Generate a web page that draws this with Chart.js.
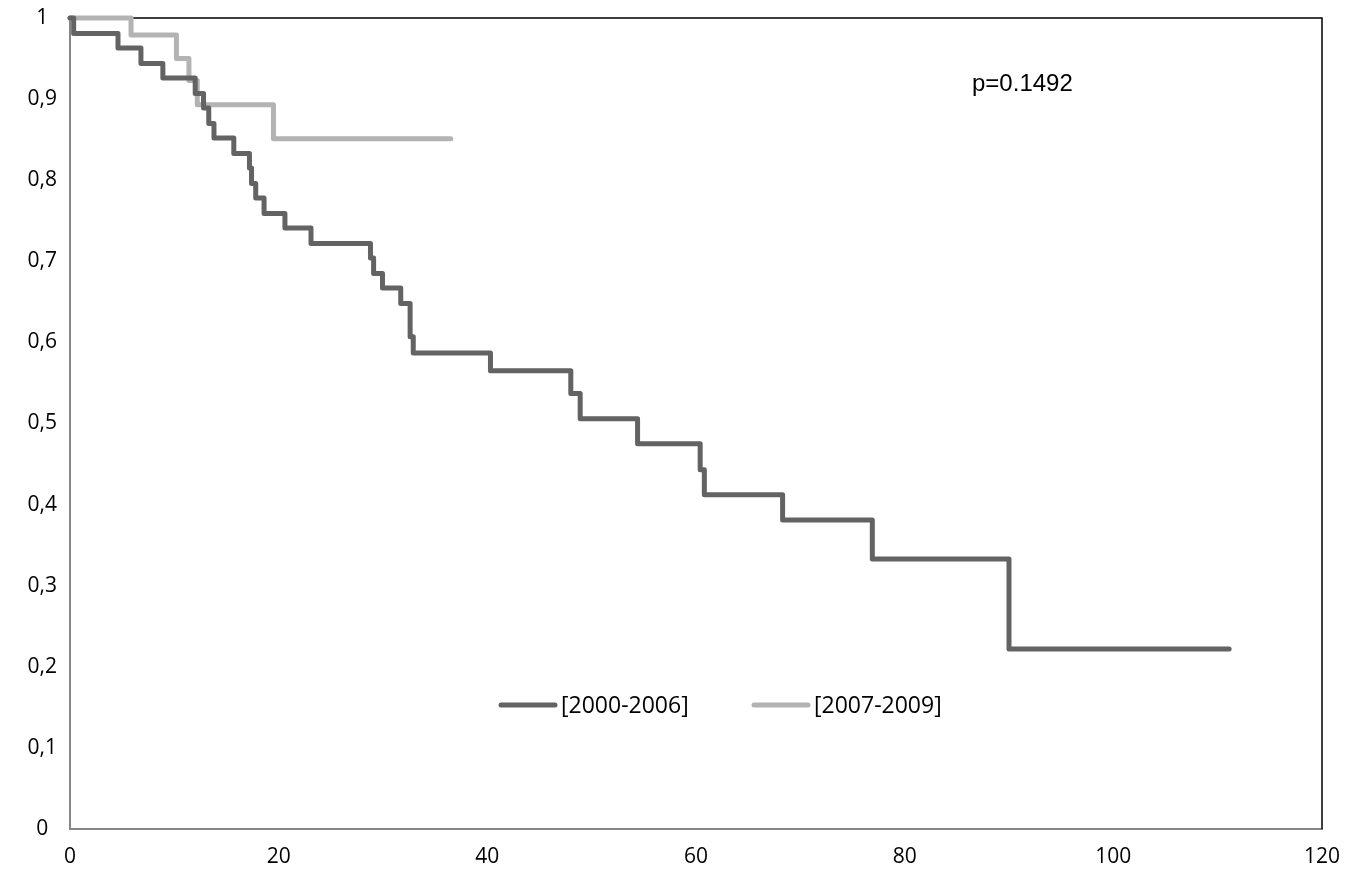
<!DOCTYPE html>
<html>
<head>
<meta charset="utf-8">
<script src="https://cdn.jsdelivr.net/npm/chart.js@4/dist/chart.umd.min.js"></script>
<style>
  html, body { margin: 0; padding: 0; background: #ffffff; }
  #wrap { width: 1355px; height: 884px; }
</style>
</head>
<body>
<div id="wrap"><canvas id="c" width="1355" height="884"></canvas></div>
<script>
// Kaplan-Meier curve data (time in months, survival probability)
const seriesLabels = ["[2000-2006]", "[2007-2009]"];
const timesA = [0, 0.35, 4.6, 6.8, 8.9, 12.0, 12.8, 13.3, 13.8, 15.7, 17.2, 17.4, 17.8, 18.6, 20.6, 23.1, 28.8, 29.1, 29.95, 31.7, 32.6, 32.9, 40.3, 48.0, 48.9, 54.4, 60.4, 60.8, 68.3, 76.9, 90.0, 111.1];
const survA  = [1, 0.981, 0.963, 0.944, 0.926, 0.907, 0.889, 0.870, 0.852, 0.833, 0.815, 0.796, 0.778, 0.759, 0.741, 0.722, 0.704, 0.685, 0.667, 0.648, 0.607, 0.587, 0.565, 0.537, 0.506, 0.475, 0.443, 0.412, 0.381, 0.333, 0.222, 0.222];
const timesB = [0, 5.85, 10.2, 11.4, 12.2, 19.5, 36.5];
const survB  = [1, 0.979, 0.950, 0.923, 0.893, 0.851, 0.851];
const xTicks = [0, 20, 40, 60, 80, 100, 120];
const yTicks = [0, 0.1, 0.2, 0.3, 0.4, 0.5, 0.6, 0.7, 0.8, 0.9, 1];
const pValueText = "p=0.1492";

const colors = ["#636363", "#b3b3b3"];

function toPoints(xs, ys) { return xs.map((x, i) => ({ x: x, y: ys[i] })); }

const framePlugin = {
  id: 'frame',
  beforeDatasetsDraw(chart) {
    const { ctx, chartArea: a } = chart;
    ctx.save();
    ctx.strokeStyle = '#000000';
    ctx.lineWidth = 1.5;
    ctx.beginPath();
    ctx.moveTo(a.left, a.top);
    ctx.lineTo(a.right, a.top);
    ctx.lineTo(a.right, a.bottom);
    ctx.stroke();
    ctx.restore();
  },
  afterDatasetsDraw(chart) {
    const { ctx, chartArea: a } = chart;
    ctx.save();
    // p-value annotation
    ctx.fillStyle = '#000000';
    ctx.font = '24px "Liberation Sans", Arial, sans-serif';
    ctx.textBaseline = 'alphabetic';
    ctx.textAlign = 'left';
    ctx.fillText(pValueText, a.left + 902, a.top + 73);
    // legend inside the plot
    const legendY = a.top + 687;
    const starts = [a.left + 431, a.left + 684];
    ctx.font = '23px "Open Sans", sans-serif';
    chart.data.datasets.forEach((ds, i) => {
      const x0 = starts[i];
      ctx.strokeStyle = ds.borderColor;
      ctx.lineWidth = 5;
      ctx.lineCap = 'round';
      ctx.beginPath();
      ctx.moveTo(x0, legendY);
      ctx.lineTo(x0 + 54, legendY);
      ctx.stroke();
      ctx.fillStyle = '#000000';
      ctx.textBaseline = 'middle';
      ctx.fillText(ds.label, x0 + 60, legendY + 1);
    });
    ctx.restore();
  }
};

new Chart(document.getElementById('c'), {
  type: 'line',
  data: {
    datasets: [
      {
        label: seriesLabels[0],
        data: toPoints(timesA, survA),
        borderColor: colors[0],
        backgroundColor: colors[0],
        borderWidth: 5,
        stepped: 'before',
        pointRadius: 0,
        fill: false,
        clip: false,
        borderCapStyle: 'round',
        borderJoinStyle: 'round'
      },
      {
        label: seriesLabels[1],
        data: toPoints(timesB, survB),
        borderColor: colors[1],
        backgroundColor: colors[1],
        borderWidth: 5,
        stepped: 'before',
        pointRadius: 0,
        fill: false,
        clip: false,
        borderCapStyle: 'round',
        borderJoinStyle: 'round'
      }
    ]
  },
  options: {
    responsive: false,
    animation: false,
    layout: { padding: { top: 18, right: 33, left: 0, bottom: 0 } },
    plugins: { legend: { display: false }, tooltip: { enabled: false } },
    scales: {
      x: {
        type: 'linear',
        min: xTicks[0],
        max: xTicks[xTicks.length - 1],
        afterBuildTicks(scale) { scale.ticks = xTicks.map(v => ({ value: v })); },
        afterFit(scale) { scale.height = 55; scale.paddingLeft = 0; scale.paddingRight = 0; },
        grid: { display: false, drawTicks: false },
        border: { display: true, color: '#868686', width: 2 },
        ticks: {
          padding: 15,
          color: '#000000',
          font: { family: '"Open Sans", sans-serif', size: 21 },
          maxRotation: 0,
          callback: v => String(v)
        }
      },
      y: {
        type: 'linear',
        min: yTicks[0],
        max: yTicks[yTicks.length - 1],
        afterBuildTicks(scale) { scale.ticks = yTicks.map(v => ({ value: v })); },
        afterFit(scale) { scale.width = 70; scale.paddingTop = 0; scale.paddingBottom = 0; },
        grid: { display: false, drawTicks: false },
        border: { display: true, color: '#868686', width: 2 },
        ticks: {
          padding: 13,
          crossAlign: 'center',
          color: '#000000',
          font: { family: '"Open Sans", sans-serif', size: 21 },
          callback: v => String(Math.round(v * 10) / 10).replace('.', ',')
        }
      }
    }
  },
  plugins: [framePlugin]
});
</script>
</body>
</html>
